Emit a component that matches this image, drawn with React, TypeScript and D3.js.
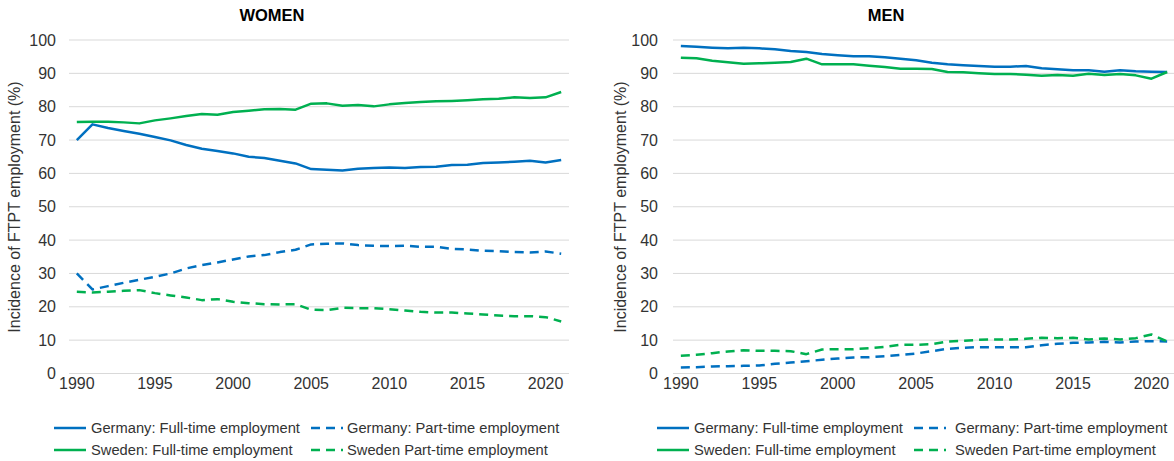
import React from "react";
import * as d3 from "d3";

const years = [1990, 1991, 1992, 1993, 1994, 1995, 1996, 1997, 1998, 1999, 2000, 2001, 2002, 2003, 2004, 2005, 2006, 2007, 2008, 2009, 2010, 2011, 2012, 2013, 2014, 2015, 2016, 2017, 2018, 2019, 2020, 2021];
const xTicks = [1990, 1995, 2000, 2005, 2010, 2015, 2020];
const yTicks = [0, 10, 20, 30, 40, 50, 60, 70, 80, 90, 100];

const womenDeFull = [70.0, 74.7, 73.6, 72.7, 71.9, 70.9, 69.9, 68.5, 67.4, 66.7, 66.0, 65.0, 64.6, 63.8, 63.0, 61.3, 61.1, 60.9, 61.4, 61.6, 61.8, 61.6, 61.9, 62.0, 62.5, 62.6, 63.1, 63.3, 63.5, 63.8, 63.3, 64.0];
const womenDePart = [30.0, 25.2, 26.2, 27.2, 28.1, 29.0, 30.0, 31.5, 32.5, 33.3, 34.2, 35.1, 35.5, 36.4, 37.1, 38.7, 38.9, 39.0, 38.5, 38.3, 38.2, 38.3, 38.0, 38.0, 37.4, 37.2, 36.8, 36.7, 36.4, 36.3, 36.6, 35.9];
const womenSeFull = [75.4, 75.5, 75.5, 75.3, 75.0, 75.9, 76.5, 77.2, 77.8, 77.6, 78.4, 78.8, 79.2, 79.3, 79.1, 80.9, 81.0, 80.3, 80.5, 80.1, 80.7, 81.1, 81.4, 81.6, 81.7, 81.9, 82.2, 82.4, 82.8, 82.6, 82.8, 84.4];
const womenSePart = [24.5, 24.3, 24.5, 24.8, 25.0, 24.1, 23.4, 22.8, 22.0, 22.3, 21.5, 21.1, 20.8, 20.7, 20.8, 19.1, 19.0, 19.7, 19.6, 19.6, 19.3, 18.9, 18.5, 18.3, 18.3, 18.0, 17.7, 17.4, 17.2, 17.2, 16.9, 15.6];

const menDeFull = [98.2, 98.0, 97.7, 97.5, 97.7, 97.5, 97.2, 96.7, 96.4, 95.8, 95.4, 95.1, 95.1, 94.8, 94.4, 93.9, 93.2, 92.7, 92.4, 92.2, 92.0, 92.0, 92.2, 91.5, 91.2, 90.9, 90.9, 90.5, 90.9, 90.6, 90.5, 90.4];
const menDePart = [1.8, 1.9, 2.1, 2.2, 2.3, 2.4, 2.9, 3.3, 3.7, 4.1, 4.5, 4.8, 4.9, 5.2, 5.6, 6.0, 6.7, 7.4, 7.7, 7.9, 7.9, 7.9, 7.9, 8.5, 8.9, 9.2, 9.3, 9.5, 9.3, 9.6, 9.7, 9.6];
const menSeFull = [94.7, 94.5, 93.8, 93.3, 92.9, 93.0, 93.2, 93.4, 94.4, 92.7, 92.7, 92.7, 92.3, 91.9, 91.4, 91.4, 91.3, 90.4, 90.3, 90.0, 89.8, 89.8, 89.6, 89.3, 89.5, 89.3, 89.9, 89.5, 89.8, 89.4, 88.4, 90.4];
const menSePart = [5.3, 5.6, 6.1, 6.6, 7.0, 6.8, 6.8, 6.7, 5.8, 7.2, 7.3, 7.3, 7.6, 8.0, 8.6, 8.6, 8.8, 9.6, 9.8, 10.1, 10.2, 10.2, 10.4, 10.7, 10.6, 10.7, 10.2, 10.5, 10.2, 10.6, 11.7, 9.6];

const legendLabels = [
  "Germany: Full-time employment",
  "Germany: Part-time employment",
  "Sweden: Full-time employment",
  "Sweden Part-time employment",
];

const BLUE = "#0070C0";
const GREEN = "#00B050";
const FONT = "'Liberation Sans', Arial, sans-serif";
const DASH = "9 6";

type PanelProps = {
  title: string;
  titleX: number;
  left: number;
  right: number;
  yTitleX: number;
  tickRight: number;
  legendX: number;
  legendX2: number;
  legendText2X: number;
  series: { values: number[]; color: string; dashed: boolean }[];
};

function Panel(p: PanelProps) {
  const x = d3.scaleLinear().domain([1989.5, 2021.5]).range([p.left, p.right]);
  const y = d3.scaleLinear().domain([0, 100]).range([373.5, 40]);
  const line = d3
    .line<number>()
    .x((_, i) => x(years[i]))
    .y((d) => y(d));
  const legendRows = [
    [
      { color: BLUE, dashed: false, label: legendLabels[0] },
      { color: BLUE, dashed: true, label: legendLabels[1] },
    ],
    [
      { color: GREEN, dashed: false, label: legendLabels[2] },
      { color: GREEN, dashed: true, label: legendLabels[3] },
    ],
  ];
  const rowY = [428, 450];
  return (
    <g fontFamily={FONT}>
      <text x={p.titleX} y={21} textAnchor="middle" fontWeight="bold" fontSize={16.5} fill="#000">
        {p.title}
      </text>
      {yTicks.map((t) => (
        <g key={t}>
          <line x1={p.left} x2={p.right} y1={y(t)} y2={y(t)} stroke="#D9D9D9" strokeWidth={1} />
          <text x={p.tickRight} y={y(t)} dy="0.35em" textAnchor="end" fontSize={16} fill="#333">
            {t}
          </text>
        </g>
      ))}
      {xTicks.map((t) => (
        <text key={t} x={x(t)} y={389} textAnchor="middle" fontSize={16} fill="#333">
          {t}
        </text>
      ))}
      <text
        transform={`translate(${p.yTitleX},207) rotate(-90)`}
        textAnchor="middle"
        dy="0.35em"
        fontSize={16}
        fill="#333"
      >
        Incidence of FTPT employment (%)
      </text>
      {p.series.map((s, i) => (
        <path
          key={i}
          d={line(s.values) || ""}
          fill="none"
          stroke={s.color}
          strokeWidth={2.5}
          strokeDasharray={s.dashed ? DASH : undefined}
          strokeLinejoin="round"
        />
      ))}
      {legendRows.map((row, r) =>
        row.map((item, c) => {
          const lx = c === 0 ? p.legendX : p.legendX2;
          const tx = c === 0 ? p.legendX + 37 : p.legendText2X;
          return (
            <g key={`${r}-${c}`}>
              <line
                x1={lx}
                x2={lx + 32}
                y1={rowY[r]}
                y2={rowY[r]}
                stroke={item.color}
                strokeWidth={2.5}
                strokeDasharray={item.dashed ? DASH : undefined}
              />
              <text x={tx} y={rowY[r]} dy="0.35em" fontSize={14.7} fill="#333">
                {item.label}
              </text>
            </g>
          );
        })
      )}
    </g>
  );
}

export default function App() {
  return (
    <svg
      width={1174}
      height={461}
      style={{ position: "absolute", left: 0, top: 0, background: "#fff" }}
    >
      <rect width={1174} height={461} fill="#fff" />
      <Panel
        title="WOMEN"
        titleX={272}
        left={69}
        right={569}
        yTitleX={14}
        tickRight={56}
        legendX={54}
        legendX2={311}
        legendText2X={347}
        series={[
          { values: womenDeFull, color: BLUE, dashed: false },
          { values: womenDePart, color: BLUE, dashed: true },
          { values: womenSeFull, color: GREEN, dashed: false },
          { values: womenSePart, color: GREEN, dashed: true },
        ]}
      />
      <Panel
        title="MEN"
        titleX={886}
        left={673}
        right={1175}
        yTitleX={620}
        tickRight={658}
        legendX={657}
        legendX2={914}
        legendText2X={955}
        series={[
          { values: menDeFull, color: BLUE, dashed: false },
          { values: menDePart, color: BLUE, dashed: true },
          { values: menSeFull, color: GREEN, dashed: false },
          { values: menSePart, color: GREEN, dashed: true },
        ]}
      />
    </svg>
  );
}
